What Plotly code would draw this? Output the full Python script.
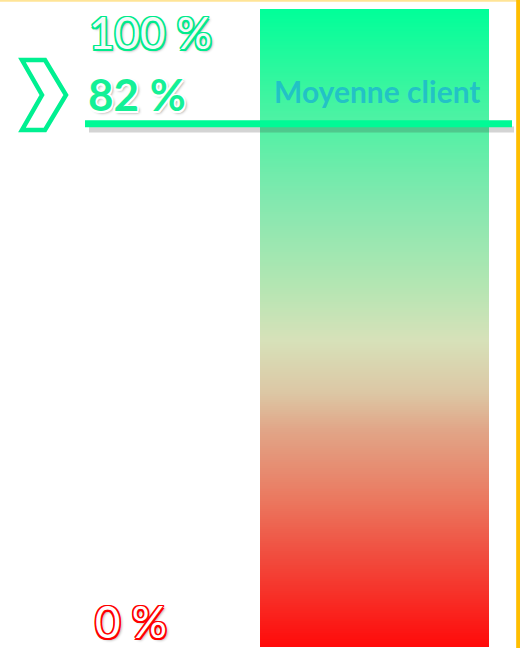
import numpy as np
import plotly.graph_objects as go

# ---- data ----
scale_min = 0
scale_max = 100
client_avg = 82
label_top = "100 %"
label_avg = "82 %"
label_bottom = "0 %"
avg_title = "Moyenne client"

grad_pos = [0.0, 0.15, 0.23, 0.34, 0.40, 0.48, 0.57, 0.70, 0.87, 1.0]
grad_col = ["rgb(255,10,10)", "rgb(240,80,65)", "rgb(235,120,95)", "rgb(225,165,135)",
            "rgb(220,200,165)", "rgb(215,225,185)", "rgb(178,230,178)", "rgb(130,232,175)",
            "rgb(60,245,160)", "rgb(0,255,153)"]

# ---- layout geometry (pixels -> data units) ----
W, H = 520, 648
px_per_unit = 6.38
bottom_px = 647
y_lo = scale_min - (H - bottom_px) / px_per_unit
y_hi = y_lo + H / px_per_unit

n = 320
edges = np.linspace(scale_min, scale_max, n + 1)
mids = (edges[:-1] + edges[1:]) / 2
colorscale = [[p, c] for p, c in zip(grad_pos, grad_col)]

fig = go.Figure()
fig.add_trace(go.Heatmap(
    x=[260, 489], y=edges, z=mids.reshape(-1, 1),
    zmin=scale_min, zmax=scale_max, colorscale=colorscale,
    showscale=False, hoverinfo="skip"))

# shadow of the average line
fig.add_trace(go.Scatter(x=[89, 514], y=[client_avg - 0.9, client_avg - 0.9], mode="lines",
                         line=dict(color="rgba(60,60,60,0.22)", width=6), hoverinfo="skip",
                         showlegend=False))
fig.add_trace(go.Scatter(x=[85, 512], y=[client_avg, client_avg], mode="lines",
                         line=dict(color="rgb(0,250,150)", width=7), hoverinfo="skip",
                         showlegend=False))

def outline(col, w=1.5, shadow="rgba(0,0,0,0.45)"):
    offs = [(-w, -w), (w, -w), (-w, w), (w, w), (0, w), (0, -w), (w, 0), (-w, 0)]
    parts = [f"{dx}px {dy}px 0 {col}" for dx, dy in offs]
    parts.append(f"2px 2px 3px {shadow}")
    return ", ".join(parts)

fontfam = "Lato, 'Open Sans', sans-serif"
fig.add_annotation(x=87, y=scale_max, xref="x", yref="y", text=label_top,
                   xanchor="left", yanchor="middle", showarrow=False, yshift=-23,
                   font=dict(family=fontfam, size=44, color="rgb(245,250,248)",
                             shadow=outline("rgb(0,235,140)")))
fig.add_annotation(x=86, y=client_avg, xref="x", yref="y", text=label_avg,
                   xanchor="left", yanchor="middle", showarrow=False, yshift=30,
                   font=dict(family=fontfam, size=44, weight="bold", color="rgb(20,240,150)",
                             shadow=outline("white", 1.5)))
fig.add_annotation(x=93, y=scale_min, xref="x", yref="y", text=label_bottom,
                   xanchor="left", yanchor="middle", showarrow=False, yshift=26,
                   font=dict(family=fontfam, size=44, color="white",
                             shadow=outline("rgb(255,0,0)")))
fig.add_annotation(x=377, y=client_avg, xref="x", yref="y", text=avg_title,
                   xanchor="center", yanchor="middle", showarrow=False, yshift=33,
                   font=dict(family=fontfam, size=30, weight="bold", color="rgba(30,185,205,0.85)"))

# chevron decoration
fig.add_shape(type="path", xref="x", yref="y",
              path=f"M 22 {y_hi-60/px_per_unit} L 45 {y_hi-60/px_per_unit} L 66 {y_hi-95/px_per_unit} "
                   f"L 45 {y_hi-130/px_per_unit} L 22 {y_hi-130/px_per_unit} L 42 {y_hi-95/px_per_unit} Z",
              line=dict(color="rgb(0,240,145)", width=4.5))

# borders
fig.add_shape(type="line", xref="paper", yref="paper", x0=0, x1=1, y0=0.999, y1=0.999,
              line=dict(color="rgb(255,228,150)", width=2))
fig.add_shape(type="line", xref="paper", yref="paper", x0=0.9965, x1=0.9965, y0=0, y1=1,
              line=dict(color="rgb(255,190,0)", width=4))

fig.update_layout(
    width=W, height=H, margin=dict(l=0, r=0, t=0, b=0),
    paper_bgcolor="white", plot_bgcolor="white", showlegend=False,
    xaxis=dict(range=[0, W], visible=False, fixedrange=True),
    yaxis=dict(range=[y_lo, y_hi], visible=False, fixedrange=True),
)
fig.write_html("out.html", config={"displayModeBar": False},
               post_script="document.body.style.margin='0';document.body.style.overflow='hidden';")
